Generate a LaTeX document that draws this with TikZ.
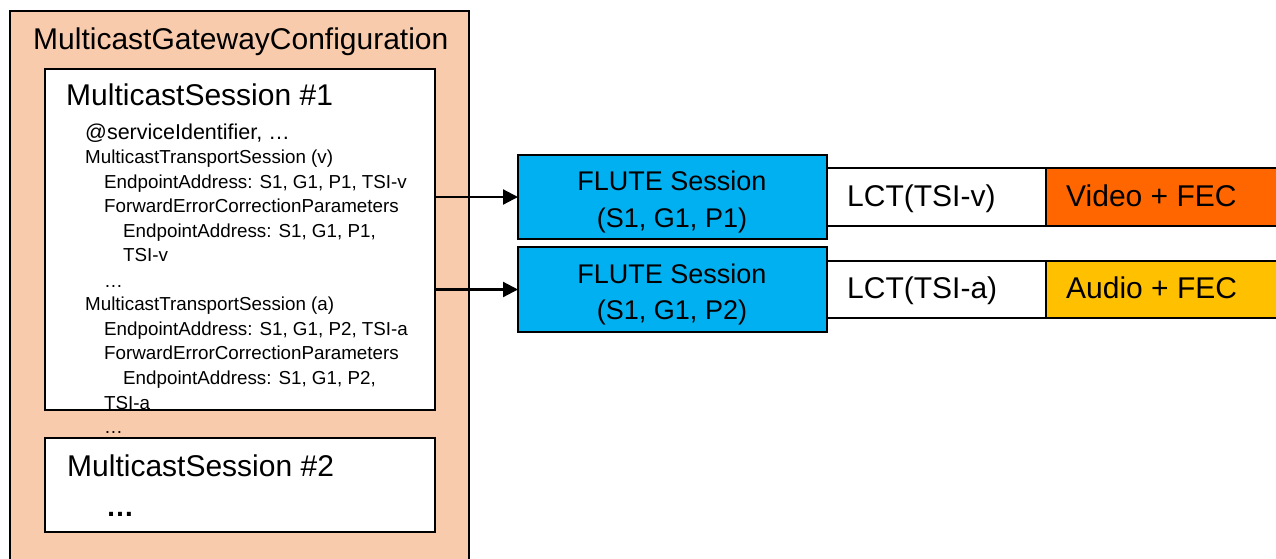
\documentclass[tikz,border=0pt]{standalone}
\usepackage{fontspec}
\setmainfont{Liberation Sans}
\usetikzlibrary{arrows.meta}
\definecolor{peach}{HTML}{F8CBAD}
\definecolor{fluteblue}{HTML}{00B0F0}
\definecolor{videoorange}{HTML}{FF6600}
\definecolor{audioyellow}{HTML}{FFC000}
\begin{document}
\begin{tikzpicture}[x=1pt,y=-1pt,
  box/.style={draw=black, line width=2.8pt, rectangle, inner sep=0pt, outer sep=0pt, anchor=north west},
  txt/.style={inner sep=0pt, anchor=base west, text=black},
  ctxt/.style={inner sep=0pt, anchor=base, text=black, font=\fontsize{27}{31}\selectfont},
  bigtxt/.style={txt, font=\fontsize{30}{35}\selectfont},
  smalltxt/.style={txt, font=\fontsize{18.8}{22}\selectfont},
  lcttxt/.style={txt, font=\fontsize{30}{36}\selectfont},
  arr/.style={draw=black, line width=2.2pt, -{Triangle[length=15pt,width=15pt]}}]
\useasboundingbox (0,0) rectangle (1276,558);
\clip (0,0) rectangle (1276,558);

% boxes
\node[box, fill=peach, minimum width=459pt, minimum height=580pt] (mgc) at (10,11) {};
\node[box, fill=white, minimum width=390pt, minimum height=341pt] (ms1) at (45,69) {};
\node[box, fill=white, minimum width=390pt, minimum height=94pt] (ms2) at (45,438) {};

\node[box, fill=white, minimum width=219pt, minimum height=58pt] (lctv) at (827,168) {};
\node[box, fill=videoorange, minimum width=240pt, minimum height=58pt] (video) at (1046,168) {};
\node[box, fill=white, minimum width=219pt, minimum height=57pt] (lcta) at (827,261) {};
\node[box, fill=audioyellow, minimum width=240pt, minimum height=57pt] (audio) at (1046,261) {};

\node[box, fill=fluteblue, minimum width=309pt, minimum height=84pt] (flute1) at (518,155) {};
\node[box, fill=fluteblue, minimum width=309pt, minimum height=85pt] (flute2) at (518,247) {};

% titles
\node[bigtxt] (tmgc) at (33,49) {MulticastGatewayConfiguration};
\node[bigtxt] (tms1) at (66,105) {MulticastSession \#1};
\node[bigtxt] (tms2) at (67,476) {MulticastSession \#2};
\node[txt, font=\fontsize{28}{34}\selectfont\bfseries] (dots2) at (106,516) {…};

% session 1 details
\node[txt, font=\fontsize{21.5}{26}\selectfont] (l1) at (85,139) {@serviceIdentifier, …};
\node[smalltxt] (l2) at (85,163.5) {MulticastTransportSession (v)};
\node[smalltxt] (l3) at (104,188) {EndpointAddress: S1, G1, P1, TSI-v};
\node[smalltxt] (l4) at (104,212.5) {ForwardErrorCorrectionParameters};
\node[smalltxt] (l5) at (123,237) {EndpointAddress: S1, G1, P1,};
\node[smalltxt] (l6) at (123,261.5) {TSI-v};
\node[smalltxt] (l7) at (104,287) {…};
\node[smalltxt] (l8) at (85,310.5) {MulticastTransportSession (a)};
\node[smalltxt] (l9) at (104,335) {EndpointAddress: S1, G1, P2, TSI-a};
\node[smalltxt] (l10) at (104,359.5) {ForwardErrorCorrectionParameters};
\node[smalltxt] (l11) at (123,384) {EndpointAddress: S1, G1, P2,};
\node[smalltxt] (l12) at (104,409) {TSI-a};
\node[smalltxt] (l13) at (104,433) {…};

% FLUTE texts
\node[ctxt] (f1a) at (672,190.7) {FLUTE Session};
\node[ctxt] (f1b) at (672,227) {(S1, G1, P1)};
\node[ctxt] (f2a) at (672,283) {FLUTE Session};
\node[ctxt] (f2b) at (672,319.5) {(S1, G1, P2)};

% LCT / payload texts
\node[lcttxt] (tlctv) at (847,206.7) {LCT(TSI-v)};
\node[lcttxt] (tvideo) at (1066,206.7) {Video + FEC};
\node[lcttxt] (tlcta) at (847,298) {LCT(TSI-a)};
\node[lcttxt] (taudio) at (1066,298) {Audio + FEC};

% arrows
\draw[arr] (ms1.east |- flute1.west) -- (flute1.west);
\draw[arr] (ms1.east |- flute2.west) -- (flute2.west);
\end{tikzpicture}
\end{document}
